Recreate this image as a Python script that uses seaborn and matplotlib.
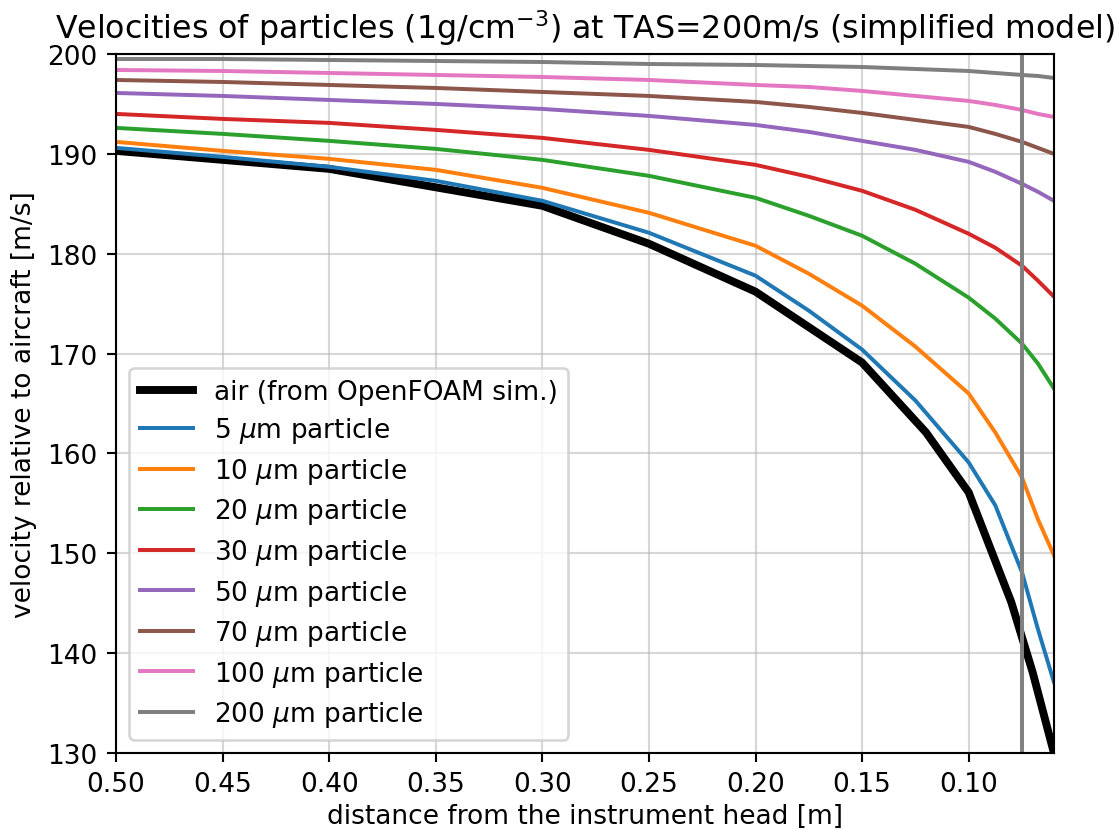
import numpy as np
import pandas as pd
import seaborn as sns
import matplotlib
matplotlib.use("Agg")
import matplotlib.pyplot as plt

# air velocity from the OpenFOAM simulation
air_x = [0.50, 0.40, 0.30, 0.25, 0.20, 0.15, 0.12, 0.10, 0.08, 0.07, 0.06]
air_v = [190.3, 188.5, 184.8, 181.0, 176.2, 169.1, 162.1, 156.1, 145.1, 138.1, 130.0]

dist = [0.50, 0.45, 0.40, 0.35, 0.30, 0.25, 0.20, 0.175, 0.15, 0.125, 0.10, 0.0875, 0.075, 0.0675, 0.06]
sizes = [5, 10, 20, 30, 50, 70, 100, 200]
v5 = [190.6, 189.7, 188.7, 187.3, 185.3, 182.1, 177.8, 174.3, 170.4, 165.3, 159.1, 154.8, 148.1, 142.4, 137.1]
v10 = [191.2, 190.3, 189.5, 188.4, 186.6, 184.1, 180.8, 178.0, 174.8, 170.7, 166.0, 162.1, 157.6, 153.4, 149.8]
v20 = [192.6, 192.0, 191.3, 190.5, 189.4, 187.8, 185.6, 183.8, 181.8, 179.0, 175.6, 173.5, 171.0, 169.0, 166.5]
v30 = [194.0, 193.5, 193.1, 192.4, 191.6, 190.4, 188.9, 187.7, 186.3, 184.4, 182.0, 180.6, 178.8, 177.3, 175.7]
v50 = [196.1, 195.8, 195.4, 195.0, 194.5, 193.8, 192.9, 192.2, 191.3, 190.4, 189.2, 188.2, 187.0, 186.2, 185.3]
v70 = [197.4, 197.2, 196.9, 196.6, 196.2, 195.8, 195.2, 194.7, 194.1, 193.4, 192.7, 192.0, 191.2, 190.6, 190.0]
v100 = [198.4, 198.3, 198.1, 197.9, 197.7, 197.4, 196.9, 196.7, 196.3, 195.8, 195.3, 194.9, 194.4, 194.0, 193.7]
v200 = [199.5, 199.5, 199.4, 199.3, 199.2, 199.0, 198.9, 198.8, 198.7, 198.5, 198.3, 198.1, 197.9, 197.8, 197.6]
particle_v = [v5, v10, v20, v30, v50, v70, v100, v200]

inlet_pos = 0.075

# 1120x831 px at 190 dpi
fig = plt.figure(figsize=(1120 / 190, 831 / 190), dpi=190)
ax = fig.add_subplot(111)
fig.subplots_adjust(left=0.1036, right=0.941, top=0.9338, bottom=0.0927)

sns.lineplot(x=air_x, y=air_v, ax=ax, color="black", lw=3, sort=False,
             label="air (from OpenFOAM sim.)")

colors = sns.color_palette("tab10", len(sizes))
for d, v, c in zip(sizes, particle_v, colors):
    sns.lineplot(x=dist, y=v, ax=ax, color=c, lw=1.5, sort=False,
                 label=r"%d $\mu$m particle" % d)

ax.axvline(inlet_pos, color="gray", lw=1.5)

ax.set_xlim(0.50, 0.06)
ax.set_ylim(130, 200)
ax.set_xticks(np.arange(0.50, 0.09, -0.05))
ax.grid(True, color="#b0b0b0", alpha=0.5, lw=0.8)

ax.set_title(r"Velocities of particles (1g/cm$^{-3}$) at TAS=200m/s (simplified model)")
ax.set_xlabel("distance from the instrument head [m]", labelpad=2.2)
ax.set_ylabel("velocity relative to aircraft [m/s]")
ax.legend(loc="lower left", labelspacing=0.4)

fig.savefig("out.png", dpi=190)
